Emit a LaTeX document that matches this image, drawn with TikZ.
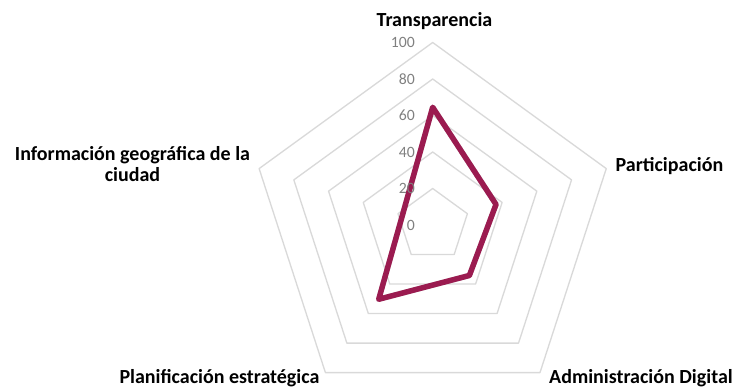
\documentclass[tikz,border=0pt]{standalone}
\usepackage{fontspec}
\setmainfont{Carlito}
\usepackage{tikz}
\usetikzlibrary{arrows.meta,calc}
\definecolor{berry}{RGB}{155,27,80}
\definecolor{gridgray}{RGB}{217,217,217}
\definecolor{tickgray}{RGB}{128,128,128}
\tikzset{
    gridline/.style={line width=1pt,color=gridgray},
    serie/.style={line width=4.1pt,color=berry},
    serieshadow/.style={line width=4.1pt,color=black,opacity=0.18},
    ticklabel/.style={anchor=east,inner sep=0pt,color=tickgray,font=\fontsize{11.8}{13}\selectfont},
    axislabel/.style={inner sep=0pt,font=\fontsize{15}{15.8}\selectfont\bfseries,align=center}
}
\begin{document}
\begin{tikzpicture}[line cap=round,line join=round,x=0.75pt,y=0.75pt]
                \useasboundingbox (-432.7,-163) rectangle (311.3,225);
                \draw [gridline] (90:36.5)-- (18:36.5)-- (-54:36.5)-- (-126:36.5)-- (162:36.5)-- cycle;
                \draw [gridline] (90:73)-- (18:73)-- (-54:73)-- (-126:73)-- (162:73)-- cycle;
                \draw [gridline] (90:109.5)-- (18:109.5)-- (-54:109.5)-- (-126:109.5)-- (162:109.5)-- cycle;
                \draw [gridline] (90:146)-- (18:146)-- (-54:146)-- (-126:146)-- (162:146)-- cycle;
                \draw [gridline] (90:182.5)-- (18:182.5)-- (-54:182.5)-- (-126:182.5)-- (162:182.5)-- cycle;
                % valores de la serie
                \coordinate (tra) at (90:117.7);
                \coordinate (par) at (18:66.6);
                \coordinate (adm) at (-54:62.4);
                \coordinate (pla) at (-126:91.8);
                \coordinate (inf) at (162:31.8);
                \draw [serieshadow,xshift=2,yshift=-2] (tra)-- (par)-- (adm)-- (pla)-- (inf)-- cycle;
                \draw [serie] (tra)-- (par)-- (adm)-- (pla)-- (inf)-- cycle;
                % escala
                \node[ticklabel] (t0) at (-17.7,0) {0};
                \node[ticklabel] (t20) at (-17.7,36.5) {20};
                \node[ticklabel] (t40) at (-17.7,73) {40};
                \node[ticklabel] (t60) at (-17.7,109.5) {60};
                \node[ticklabel] (t80) at (-17.7,146) {80};
                \node[ticklabel] (t100) at (-17.7,182.5) {100};
                % ejes
                \node[axislabel] (ltra) at (1.8,204) {Transparencia};
                \node[axislabel] (lpar) at (236.8,59.3) {Participación};
                \node[axislabel] (ladm) at (208.3,-153) {Administración Digital};
                \node[axislabel] (lpla) at (-213.2,-153) {Planificación estratégica};
                \node[axislabel] (linf) at (-300.2,60.5) {Información geográfica de la\\ciudad};
            \end{tikzpicture}
\end{document}
